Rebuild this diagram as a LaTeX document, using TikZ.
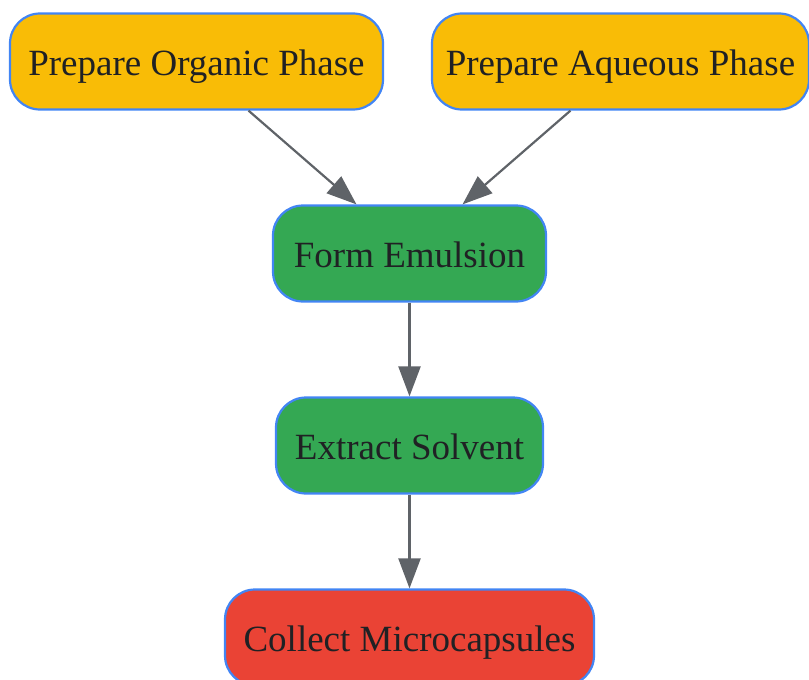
\documentclass[tikz,border=0pt]{standalone}
\usepackage{fontspec}
\setmainfont{Liberation Serif}
\usetikzlibrary{arrows.meta}

\definecolor{stepyellow}{HTML}{F9BC06}
\definecolor{stepgreen}{HTML}{34A853}
\definecolor{stepred}{HTML}{EA4335}
\definecolor{stepborder}{HTML}{4285F4}
\definecolor{flowgrey}{HTML}{5F6368}
\definecolor{steptext}{HTML}{202124}

\tikzset{every picture/.style={line width=0.75pt}}
\tikzset{
  stepbox/.style={draw=stepborder, line width=2.2pt, rounded corners=30pt, minimum height=96pt,
    inner sep=0pt, text height=27pt, text depth=0pt, text=steptext, font=\fontsize{37}{40}\selectfont},
  flow/.style={draw=flowgrey, line width=2.2pt, -{Triangle[length=30pt,width=22pt]}}
}

\begin{document}
\begin{tikzpicture}[x=1pt,y=1pt,yscale=-1,xscale=1]
        \useasboundingbox (0,0) rectangle (809,680);

        % Step Nodes
        \node [stepbox, fill=stepyellow, minimum width=373pt] (organic) at (196.5,61.5) {Prepare Organic Phase};
        \node [stepbox, fill=stepyellow, minimum width=377pt] (aqueous) at (620.5,61.5) {Prepare Aqueous Phase};
        \node [stepbox, fill=stepgreen, minimum width=273pt] (emulsion) at (409.5,253.5) {Form Emulsion};
        \node [stepbox, fill=stepgreen, minimum width=267pt] (extract) at (409.5,445.5) {Extract Solvent};
        \node [stepbox, fill=stepred, minimum width=369pt] (collect) at (409.5,637.5) {Collect Microcapsules};

        % Straight Lines
        \draw [flow] ([xshift=52pt]organic.south) -- ([xshift=-53pt]emulsion.north);
        \draw [flow] ([xshift=-50pt]aqueous.south) -- ([xshift=53pt]emulsion.north);
        \draw [flow] (emulsion) -- (extract);
        \draw [flow] (extract) -- (collect);

\end{tikzpicture}
\end{document}
